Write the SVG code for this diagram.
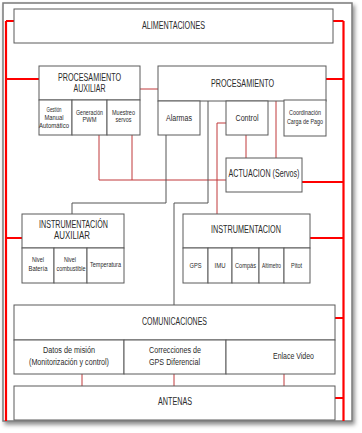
<svg xmlns="http://www.w3.org/2000/svg" width="362" height="433" viewBox="0 0 362 433">
<defs>
<filter id="sh" x="-5%" y="-5%" width="115%" height="115%"><feDropShadow dx="2" dy="3" stdDeviation="2" flood-color="#000" flood-opacity="0.45"/></filter>
</defs>
<style>
.box{fill:#fff;stroke:#5a5a5a;stroke-width:1}
.t{font-family:"Liberation Sans",Arial,sans-serif;fill:#2a2a2a;text-anchor:middle}
.h{font-size:10px}
.s{font-size:7px}
.m{font-size:8.5px}
.pw{stroke:#ff0000;stroke-width:2.2;fill:none}
.rd{stroke:#c0393b;stroke-width:1;fill:none}
.gy{stroke:#555;stroke-width:1;fill:none}
</style>
<rect x="3" y="3" width="349" height="418" fill="#fff" stroke="#7a7a7a" stroke-width="1.5" filter="url(#sh)"/>
<g id="connectors">
<path class="pw" d="M6 21V421M343.5 21V421"/>
<path class="pw" d="M6 21H14M333 21H343.5M6 79H39M326 79H343.5M302 182H343.5M6 238H22M310 238H343.5M335 318H343.5M335 398H343.5"/>
<path class="rd" d="M140 89H158"/>
<path class="rd" d="M99 135V180H226M132 135V180"/>
<path class="rd" d="M246 135V158M276 101V158M226 123H217V214"/>
<path class="gy" d="M166 135V203H72V214M208 101V203H174V305"/>
<path class="rd" d="M82 374V386M174 374V386M284 374V386"/>
</g>
<g id="alimentaciones">
<rect class="box" x="14" y="9" width="319" height="34"/>
<text class="t h" x="173.5" y="29" textLength="63" lengthAdjust="spacingAndGlyphs">ALIMENTACIONES</text>
</g>
<g id="procesamiento-auxiliar">
<rect class="box" x="39" y="66" width="101" height="34"/>
<rect class="box" x="39" y="100" width="33" height="35"/>
<rect class="box" x="72" y="100" width="35" height="35"/>
<rect class="box" x="107" y="100" width="33" height="35"/>
<text class="t h" x="89.5" y="81" textLength="63" lengthAdjust="spacingAndGlyphs">PROCESAMIENTO</text>
<text class="t h" x="89.5" y="92" textLength="32" lengthAdjust="spacingAndGlyphs">AUXILIAR</text>
<text class="t s" x="54" y="112" textLength="15" lengthAdjust="spacingAndGlyphs">Gestión</text>
<text class="t s" x="54" y="120" textLength="19" lengthAdjust="spacingAndGlyphs">Manual</text>
<text class="t s" x="54" y="128" textLength="30" lengthAdjust="spacingAndGlyphs">Automático</text>
<text class="t s" x="89.5" y="115" textLength="27" lengthAdjust="spacingAndGlyphs">Generación</text>
<text class="t s" x="89.5" y="122" textLength="14" lengthAdjust="spacingAndGlyphs">PWM</text>
<text class="t s" x="123.5" y="115" textLength="23" lengthAdjust="spacingAndGlyphs">Muestreo</text>
<text class="t s" x="123.5" y="122" textLength="16" lengthAdjust="spacingAndGlyphs">servos</text>
</g>
<g id="procesamiento">
<rect class="box" x="158" y="66" width="168" height="35"/>
<text class="t h" x="242.5" y="87" textLength="63" lengthAdjust="spacingAndGlyphs">PROCESAMIENTO</text>
</g>
<g id="alarmas">
<rect class="box" x="158" y="101" width="42" height="34"/>
<text class="t m" x="179" y="121" textLength="26" lengthAdjust="spacingAndGlyphs">Alarmas</text>
</g>
<g id="control">
<rect class="box" x="226" y="101" width="42" height="34"/>
<text class="t m" x="247" y="121" textLength="23" lengthAdjust="spacingAndGlyphs">Control</text>
</g>
<g id="coordinacion">
<rect class="box" x="284" y="100" width="42" height="36"/>
<text class="t s" x="305" y="115" textLength="32" lengthAdjust="spacingAndGlyphs">Coordinación</text>
<text class="t s" x="305" y="124" textLength="36" lengthAdjust="spacingAndGlyphs">Carga de Pago</text>
</g>
<g id="actuacion">
<rect class="box" x="226" y="158" width="76" height="34"/>
<text class="t h" x="264" y="177" textLength="71" lengthAdjust="spacingAndGlyphs">ACTUACION (Servos)</text>
</g>
<g id="instrumentacion-auxiliar">
<rect class="box" x="22" y="214" width="102" height="34"/>
<rect class="box" x="22" y="248" width="32" height="35"/>
<rect class="box" x="54" y="248" width="33" height="35"/>
<rect class="box" x="87" y="248" width="37" height="35"/>
<text class="t h" x="73.5" y="228" textLength="69" lengthAdjust="spacingAndGlyphs">INSTRUMENTACIÓN</text>
<text class="t h" x="72" y="239" textLength="36" lengthAdjust="spacingAndGlyphs">AUXILIAR</text>
<text class="t s" x="38" y="262" textLength="12" lengthAdjust="spacingAndGlyphs">Nivel</text>
<text class="t s" x="38" y="271" textLength="19" lengthAdjust="spacingAndGlyphs">Batería</text>
<text class="t s" x="70" y="262" textLength="12" lengthAdjust="spacingAndGlyphs">Nivel</text>
<text class="t s" x="71" y="271" textLength="29" lengthAdjust="spacingAndGlyphs">combustible</text>
<text class="t s" x="105.5" y="267" textLength="31" lengthAdjust="spacingAndGlyphs">Temperatura</text>
</g>
<g id="instrumentacion">
<rect class="box" x="183" y="214" width="127" height="34"/>
<rect class="box" x="183" y="248" width="25" height="35"/>
<rect class="box" x="208" y="248" width="24" height="35"/>
<rect class="box" x="232" y="248" width="27" height="35"/>
<rect class="box" x="259" y="248" width="25" height="35"/>
<rect class="box" x="284" y="248" width="26" height="35"/>
<text class="t h" x="246" y="233" textLength="70" lengthAdjust="spacingAndGlyphs">INSTRUMENTACION</text>
<text class="t s" x="195.5" y="268" textLength="12" lengthAdjust="spacingAndGlyphs">GPS</text>
<text class="t s" x="220" y="268" textLength="11" lengthAdjust="spacingAndGlyphs">IMU</text>
<text class="t s" x="245.5" y="268" textLength="21" lengthAdjust="spacingAndGlyphs">Compás</text>
<text class="t s" x="271.5" y="268" font-size="6" textLength="19" lengthAdjust="spacingAndGlyphs">Altímetro</text>
<text class="t s" x="296.5" y="268" textLength="11" lengthAdjust="spacingAndGlyphs">Pitot</text>
</g>
<g id="comunicaciones">
<rect class="box" x="14" y="305" width="321" height="35"/>
<rect class="box" x="14" y="340" width="110" height="34"/>
<rect class="box" x="124" y="340" width="102" height="34"/>
<rect class="box" x="226" y="340" width="109" height="34"/>
<text class="t h" x="174.5" y="325" textLength="65" lengthAdjust="spacingAndGlyphs">COMUNICACIONES</text>
<text class="t m" x="69" y="353" textLength="52" lengthAdjust="spacingAndGlyphs">Datos de misión</text>
<text class="t m" x="69" y="365" textLength="80" lengthAdjust="spacingAndGlyphs">(Monitorización y control)</text>
<text class="t m" x="175" y="353" textLength="52" lengthAdjust="spacingAndGlyphs">Correcciones de</text>
<text class="t m" x="174.5" y="365" textLength="51" lengthAdjust="spacingAndGlyphs">GPS Diferencial</text>
<text class="t m" x="293.5" y="359" textLength="41" lengthAdjust="spacingAndGlyphs">Enlace Video</text>
</g>
<g id="antenas">
<rect class="box" x="14" y="386" width="321" height="34"/>
<text class="t h" x="175" y="405" textLength="34" lengthAdjust="spacingAndGlyphs">ANTENAS</text>
</g>
</svg>
